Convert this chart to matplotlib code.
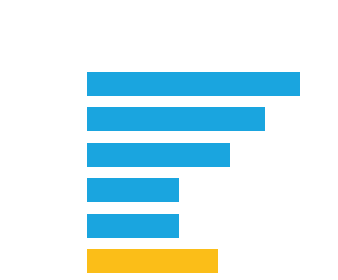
import matplotlib
matplotlib.use("Agg")
import matplotlib.pyplot as plt

categories = ["A", "B", "C", "D", "E", "F"]
values = [212.5, 177.5, 143, 91.5, 92, 131]
colors = ["#1AA5DF"] * 5 + ["#FBBE18"]

fig = plt.figure(figsize=(3.38, 2.80), dpi=100)
ax = fig.add_axes([87 / 338, 0, 1 - 87 / 338, 1])
ypos = list(range(len(categories)))
ax.barh(ypos, values, height=0.69, color=colors)
ax.set_xlim(0, 251)
ax.set_ylim((280 - 83.75) / 35.5, -83.75 / 35.5)
ax.axis("off")
fig.savefig("out.png", dpi=100)
